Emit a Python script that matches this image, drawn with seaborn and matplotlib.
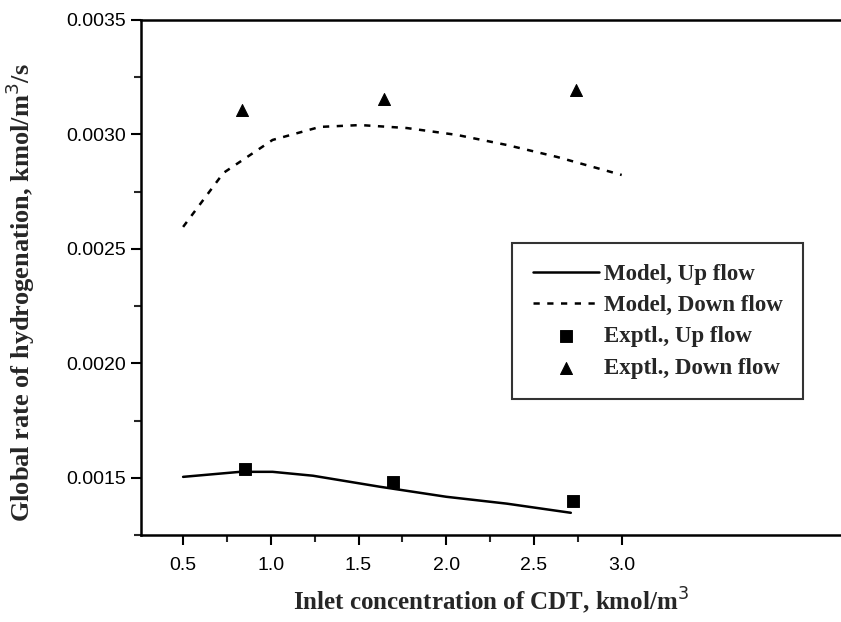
import numpy as np
import pandas as pd
import seaborn as sns
import matplotlib.pyplot as plt

# model curves
x_model_down = [0.5, 0.73, 1.01, 1.28, 1.51, 1.775, 2.06, 2.345, 2.63, 3.0]
y_model_down = [0.002596, 0.002832, 0.002976, 0.003033, 0.003041, 0.003028, 0.002998, 0.002954, 0.002902, 0.002823]
x_model_up = [0.5, 0.825, 1.01, 1.24, 1.62, 2.0, 2.345, 2.71]
y_model_up = [0.001504, 0.001526, 0.001526, 0.001509, 0.001461, 0.001417, 0.001387, 0.001347]

# experiments
x_exp_up = [0.853, 1.696, 2.72]
y_exp_up = [0.001539, 0.001483, 0.001400]
x_exp_down = [0.836, 1.645, 2.738]
y_exp_down = [0.003107, 0.003155, 0.003194]

sns.set_style("ticks")
plt.rcParams["font.family"] = ["Liberation Sans", "DejaVu Sans"]

fig = plt.figure(figsize=(8.41, 6.22), dpi=100)
ax = fig.add_axes([141 / 841, 87 / 622, 700 / 841, 515 / 622])

sns.lineplot(x=x_model_up, y=y_model_up, ax=ax, color="black", lw=1.8,
             label="Model, Up flow", sort=False)
sns.lineplot(x=x_model_down, y=y_model_down, ax=ax, color="black", lw=1.8,
             label="Model, Down flow", sort=False)
ax.lines[-1].set_dashes((2.5, 3))
sns.scatterplot(x=x_exp_up, y=y_exp_up, ax=ax, color="black", marker="s", s=65,
                edgecolor="black", label="Exptl., Up flow")
sns.scatterplot(x=x_exp_down, y=y_exp_down, ax=ax, color="black", marker="^", s=75,
                edgecolor="black", label="Exptl., Down flow")

ax.set_xlim(0.26, 4.25)
ax.set_ylim(0.00125, 0.0035)
ax.set_xticks([0.5, 1.0, 1.5, 2.0, 2.5, 3.0])
ax.set_xticks([0.75, 1.25, 1.75, 2.25, 2.75], minor=True)
ax.set_yticks([0.0015, 0.0020, 0.0025, 0.0030, 0.0035])
ax.set_yticks([0.00125, 0.00175, 0.00225, 0.00275, 0.00325], minor=True)
ax.yaxis.set_major_formatter(plt.FormatStrFormatter("%.4f"))
ax.xaxis.set_major_formatter(plt.FormatStrFormatter("%.1f"))
ax.tick_params(which="major", direction="out", length=7, width=1.5, labelsize=14,
               colors="black", pad=4)
ax.tick_params(axis="x", which="major", pad=9)
ax.tick_params(which="minor", direction="out", length=5, width=1.5)

for side in ["left", "bottom", "top"]:
    ax.spines[side].set_linewidth(1.8)
    ax.spines[side].set_color("black")
ax.spines["right"].set_visible(False)

serif = ["Liberation Serif", "DejaVu Serif"]
ax.set_xlabel("Inlet concentration of CDT, kmol/m$^3$", family=serif,
              fontweight="bold", fontsize=18, labelpad=8)
ax.set_ylabel("Global rate of hydrogenation, kmol/m$^3$/s", family=serif,
              fontweight="bold", fontsize=19)
ax.yaxis.set_label_coords(-0.148, 0.47)

leg = ax.legend(loc="upper left", bbox_to_anchor=(0.53, 0.567), frameon=True,
                fancybox=False, handlelength=2.9, handletextpad=0.2, borderpad=0.9,
                labelspacing=0.45, borderaxespad=0,
                prop={"family": serif, "weight": "bold", "size": 16.5})
leg.get_frame().set_edgecolor("black")
leg.get_frame().set_linewidth(1.5)

fig.savefig("out.png", dpi=100)
